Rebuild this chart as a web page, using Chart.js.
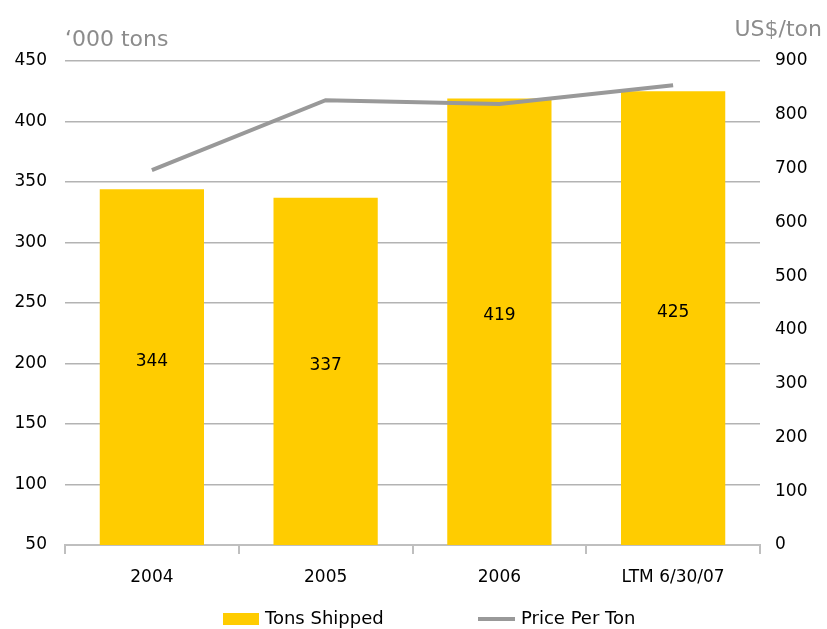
<!DOCTYPE html>
<html>
<head>
<meta charset="utf-8">
<script src="https://cdn.jsdelivr.net/npm/chart.js@4.4.0/dist/chart.umd.min.js"></script>
<style>
  html, body { margin: 0; padding: 0; background: #fff; }
  #wrap { width: 827px; height: 629px; }
</style>
</head>
<body>
<div id="wrap"><canvas id="shipChart"></canvas></div>
<script>
const categories = ['2004', '2005', '2006', 'LTM 6/30/07'];
const tonsShipped = [344, 337, 419, 425];
const pricePerTon = [697, 827, 820, 855];
const leftTicks = [50, 450, 50];   // min, max, step
const rightTicks = [0, 900, 100];

const FONT = "'DejaVu Sans', sans-serif";
const YELLOW = '#FFCC00';
const GREY = '#999999';

// axis titles, bar values and the legend row
const extras = {
    id: 'extras',
    afterDatasetsDraw(chart) {
        const ctx = chart.ctx;
        const area = chart.chartArea;
        ctx.save();
        ctx.fillStyle = '#000';
        ctx.font = '17px ' + FONT;
        ctx.textAlign = 'center';
        ctx.textBaseline = 'middle';
        chart.getDatasetMeta(1).data.forEach((bar, i) => {
            const bottom = Math.min(bar.base, area.bottom);
            ctx.fillText(tonsShipped[i], bar.x, (bar.y + bottom) / 2 - 6);
        });

        ctx.fillStyle = '#8c8c8c';
        ctx.font = '22px ' + FONT;
        ctx.textBaseline = 'alphabetic';
        ctx.textAlign = 'left';
        ctx.fillText('\u2018000 tons', area.left, 46);
        ctx.textAlign = 'right';
        ctx.fillText('US$/ton', 822, 36);

        // legend
        const ly = 619;
        ctx.fillStyle = YELLOW;
        ctx.fillRect(223, ly - 6, 36, 12);
        ctx.strokeStyle = GREY;
        ctx.lineWidth = 4;
        ctx.beginPath();
        ctx.moveTo(478, ly);
        ctx.lineTo(515, ly);
        ctx.stroke();
        ctx.fillStyle = '#000';
        ctx.font = '18px ' + FONT;
        ctx.textAlign = 'left';
        ctx.textBaseline = 'middle';
        ctx.fillText(chart.data.datasets[1].label, 265, ly);
        ctx.fillText(chart.data.datasets[0].label, 521, ly);
        ctx.restore();
    }
};

new Chart(document.getElementById('shipChart'), {
    data: {
        labels: categories,
        datasets: [
            {
                type: 'line',
                label: 'Price Per Ton',
                data: pricePerTon,
                yAxisID: 'y2',
                borderColor: GREY,
                borderWidth: 4,
                pointRadius: 0,
                tension: 0,
                order: 0
            },
            {
                type: 'bar',
                label: 'Tons Shipped',
                data: tonsShipped,
                yAxisID: 'y',
                backgroundColor: YELLOW,
                categoryPercentage: 0.6,
                barPercentage: 1,
                order: 1
            }
        ]
    },
    options: {
        responsive: true,
        maintainAspectRatio: false,
        animation: false,
        layout: { padding: { top: 61, left: 0, right: 0, bottom: 34 } },
        scales: {
            x: {
                offset: true,
                grid: {
                    offset: true,
                    drawOnChartArea: false,
                    tickLength: 9,
                    color: '#BFBFBF',
                    lineWidth: 2
                },
                border: { color: '#BFBFBF', width: 2 },
                ticks: { color: '#000', font: { family: FONT, size: 17 }, padding: 13 },
                afterFit(s) { s.height = 50; }
            },
            y: {
                position: 'left',
                min: leftTicks[0],
                max: leftTicks[1],
                grid: { color: '#B3B3B3', lineWidth: 1.5, drawTicks: false },
                border: { display: false },
                ticks: { stepSize: leftTicks[2], color: '#000', font: { family: FONT, size: 17 }, padding: 18 },
                afterFit(s) { s.width = 65; }
            },
            y2: {
                position: 'right',
                min: rightTicks[0],
                max: rightTicks[1],
                grid: { drawOnChartArea: false, drawTicks: false },
                border: { display: false },
                ticks: { stepSize: rightTicks[2], color: '#000', font: { family: FONT, size: 17 }, padding: 15 },
                afterFit(s) { s.width = 67; }
            }
        },
        plugins: {
            legend: { display: false },
            tooltip: { enabled: false }
        }
    },
    plugins: [extras]
});
</script>
</body>
</html>
